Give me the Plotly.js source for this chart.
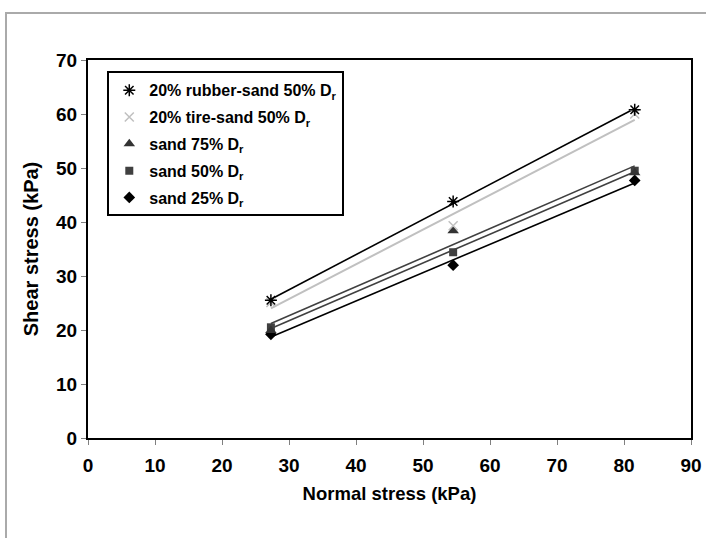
<!DOCTYPE html>
<html>
<head>
<meta charset="utf-8">
<script src="https://cdn.plot.ly/plotly-3.0.1.min.js"></script>
<style>
  html, body { margin: 0; padding: 0; background: #fff; }
  #frame { position: absolute; left: 5px; top: 12px; width: 760px; height: 600px;
           border-left: 2px solid #aaaaaa; border-top: 2px solid #aaaaaa; }
  #chart { position: absolute; left: 0; top: 0; width: 706px; height: 538px; }
</style>
</head>
<body>
<div id="frame"></div>
<div id="chart"></div>
<script>
// Normal stress (kPa)
var normalStress = [27.3, 54.5, 81.6];

// Shear stress (kPa) per series
var rubberSand50 = [25.5, 43.8, 60.8];
var tireSand50   = [25.1, 39.3, 60.0];
var sand75       = [19.9, 38.4, 49.1];
var sand50       = [20.5, 34.4, 49.5];
var sand25       = [19.2, 32.0, 47.7];

var seriesNames = [
  '20% rubber-sand 50% D<sub>r</sub>',
  '20% tire-sand 50% D<sub>r</sub>',
  'sand 75% D<sub>r</sub>',
  'sand 50% D<sub>r</sub>',
  'sand 25% D<sub>r</sub>'
];

var xTicks = [0, 10, 20, 30, 40, 50, 60, 70, 80, 90];
var yTicks = [0, 10, 20, 30, 40, 50, 60, 70];

var seriesData = [rubberSand50, tireSand50, sand75, sand50, sand25];
var markerStyles = [
  {symbol: 'asterisk-open', size: 10, color: '#000000', line: {color: '#000000', width: 1.5}},
  {symbol: 'x-thin-open', size: 9, color: '#c0c0c0', line: {color: '#c0c0c0', width: 1.5}},
  {symbol: 'triangle-up', size: 10, color: '#333333', line: {width: 0}},
  {symbol: 'square', size: 8, color: '#404040', line: {width: 0}},
  {symbol: 'diamond', size: 9, color: '#000000', line: {width: 0}}
];
var lineStyles = [
  {color: '#000000', width: 1.6},
  {color: '#c0c0c0', width: 2},
  {color: '#404040', width: 1.6},
  {color: '#404040', width: 1.6},
  {color: '#000000', width: 1.6}
];

// least-squares linear trendline over the data range
function trend(xs, ys) {
  var n = xs.length, sx = 0, sy = 0, sxx = 0, sxy = 0;
  for (var i = 0; i < n; i++) { sx += xs[i]; sy += ys[i]; sxx += xs[i]*xs[i]; sxy += xs[i]*ys[i]; }
  var m = (n*sxy - sx*sy) / (n*sxx - sx*sx);
  var b = (sy - m*sx) / n;
  var x0 = Math.min.apply(null, xs), x1 = Math.max.apply(null, xs);
  return {x: [x0, x1], y: [m*x0 + b, m*x1 + b]};
}

var traces = [];
for (var i = 0; i < seriesData.length; i++) {
  var t = trend(normalStress, seriesData[i]);
  traces.push({x: t.x, y: t.y, mode: 'lines', type: 'scatter', line: lineStyles[i],
               showlegend: false, hoverinfo: 'skip'});
}
for (var j = seriesData.length - 1; j >= 0; j--) {
  traces.push({x: normalStress, y: seriesData[j], mode: 'markers', type: 'scatter',
               name: seriesNames[j], marker: markerStyles[j], legendrank: j + 1,
               legendgroup: 'g' + j});
}

var fontFam = 'Arial, "Liberation Sans", sans-serif';
var layout = {
  width: 706, height: 538,
  paper_bgcolor: 'rgba(0,0,0,0)', plot_bgcolor: '#ffffff',
  margin: {l: 88, r: 15, t: 60, b: 100},
  showlegend: true,
  font: {family: fontFam, color: '#000000'},
  xaxis: {
    range: [0, 90], tickvals: xTicks, ticktext: xTicks.map(String),
    showgrid: false, zeroline: false, showline: true, mirror: true,
    linecolor: '#000000', linewidth: 2,
    ticks: 'outside', ticklen: 5, tickcolor: '#808080', tickwidth: 1,
    ticklabelstandoff: 4,
    tickfont: {family: fontFam, size: 19, color: '#000000', weight: 'bold'},
    title: {text: '<b>Normal stress (kPa)</b>', font: {family: fontFam, size: 18.5, color: '#000000'}, standoff: 12}
  },
  yaxis: {
    range: [0, 70], tickvals: yTicks, ticktext: yTicks.map(String),
    showgrid: false, zeroline: false, showline: true, mirror: true,
    linecolor: '#000000', linewidth: 2,
    ticks: 'outside', ticklen: 5, tickcolor: '#808080', tickwidth: 1,
    tickfont: {family: fontFam, size: 19, color: '#000000', weight: 'bold'},
    title: {text: '<b>Shear stress (kPa)</b>', font: {family: fontFam, size: 20, color: '#000000'}, standoff: 12}
  },
  legend: {
    x: 0.032, y: 0.97, xanchor: 'left', yanchor: 'top',
    bgcolor: '#ffffff', bordercolor: '#000000', borderwidth: 2,
    font: {family: fontFam, size: 16, color: '#000000', weight: 'bold'},
    tracegroupgap: 3, itemwidth: 30, traceorder: 'grouped'
  }
};

Plotly.newPlot('chart', traces, layout, {displayModeBar: false, staticPlot: true});
</script>
</body>
</html>
